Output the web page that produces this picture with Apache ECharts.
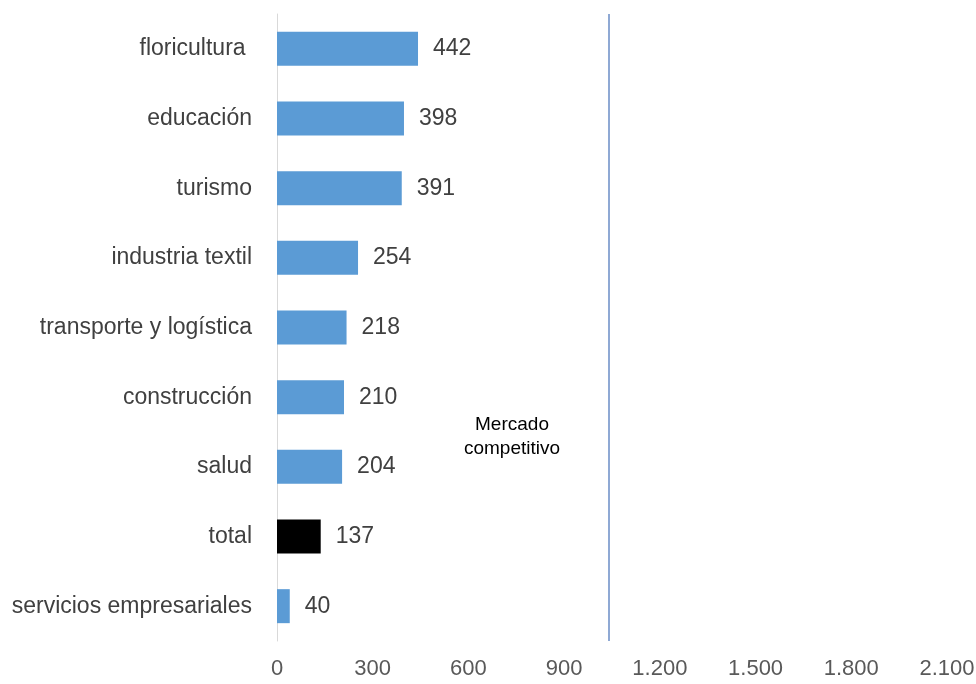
<!DOCTYPE html>
<html><head><meta charset="utf-8">
<script src="https://cdn.jsdelivr.net/npm/echarts@6/dist/echarts.min.js"></script>
<style>html,body{margin:0;padding:0;background:#fff}#c{width:976px;height:684px}</style>
</head><body><div id="c"></div>
<script>
var categories = ['floricultura ', 'educación', 'turismo', 'industria textil', 'transporte y logística', 'construcción', 'salud', 'total', 'servicios empresariales'];
var values = [442, 398, 391, 254, 218, 210, 204, 137, 40];
var highlight = 'total';
var thresholdValue = 1040;
var thresholdLabel = 'Mercado\ncompetitivo';

var chart = echarts.init(document.getElementById('c'));
var font = '"Liberation Sans", Arial, sans-serif';
chart.setOption({
  animation: false,
  grid: {left: 277, right: 29, top: 14, bottom: 43, containLabel: false, outerBoundsMode: 'none'},
  xAxis: {
    type: 'value', min: 0, max: 2100, interval: 300,
    axisLine: {show: false}, axisTick: {show: false}, splitLine: {show: false},
    axisLabel: {color: '#595959', fontSize: 22, fontFamily: font, margin: 17,
      formatter: function (v) { return String(v).replace(/\B(?=(\d{3})+(?!\d))/g, '.'); }}
  },
  yAxis: {
    type: 'category', data: categories, inverse: true,
    axisLine: {show: true, lineStyle: {color: '#d9d9d9', width: 1}},
    axisTick: {show: false},
    axisLabel: {color: '#404040', fontSize: 23, fontFamily: font, margin: 25}
  },
  graphic: [{
    type: 'text', x: 512, y: 437,
    style: {text: thresholdLabel, fontSize: 19, fontFamily: font, fill: '#000', textAlign: 'center', textVerticalAlign: 'middle', lineHeight: 24}
  }],
  series: [{
    type: 'bar', barWidth: 34,
    data: values.map(function (v, i) {
      return {value: v, itemStyle: {color: categories[i] === highlight ? '#000000' : '#5b9bd5'}};
    }),
    label: {show: true, position: 'right', distance: 15, color: '#404040', fontSize: 23, fontFamily: font},
    markLine: {
      silent: true, symbol: 'none', label: {show: false},
      lineStyle: {color: '#8fa9d4', width: 2, type: 'solid'},
      data: [{xAxis: thresholdValue}]
    }
  }]
});
</script></body></html>
